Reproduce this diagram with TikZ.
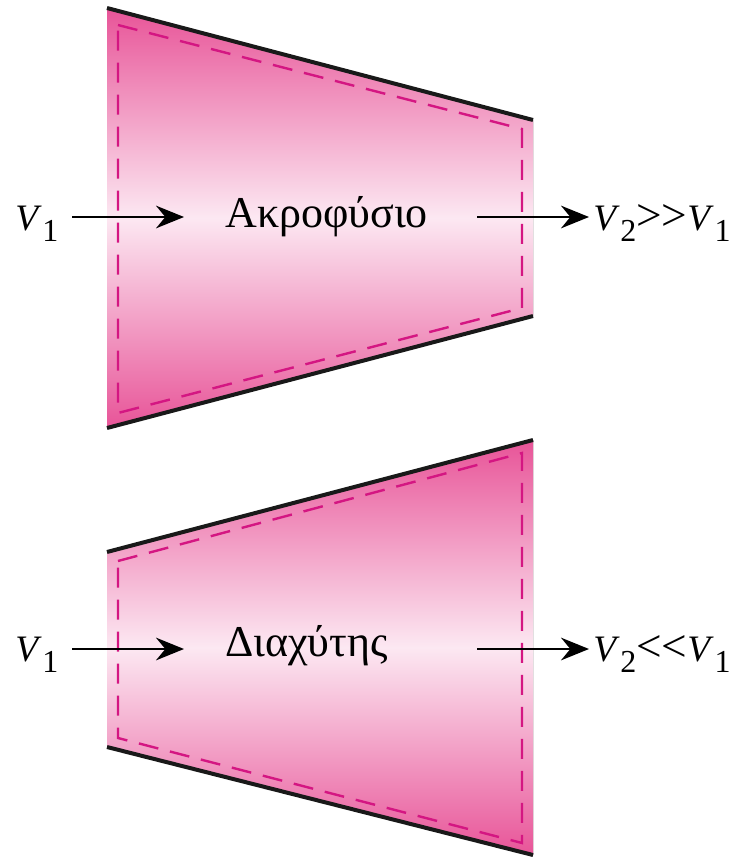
\documentclass[tikz,border=0pt]{standalone}
\usepackage{fontspec}
\setmainfont{Liberation Serif}
\usetikzlibrary{arrows.meta}
\definecolor{nozpink}{RGB}{232,84,152}
\definecolor{nozlight}{RGB}{252,232,242}
\definecolor{dashmag}{RGB}{212,22,130}
\newcommand{\vel}[1]{\textit{V}\kern0.5pt\raisebox{-0.32em}{\fontsize{24}{24}\selectfont #1}}
\newcommand{\much}[1]{{\fontsize{34}{34}\selectfont #1\kern0pt#1}}

\begin{document}
\begin{tikzpicture}[
  x=0.75pt, y=-0.75pt,
  duct/.style={top color=nozpink, bottom color=nozpink, middle color=nozlight, draw=none},
  wall/.style={line width=3pt, black!90},
  inner/.style={draw=dashmag, line width=1.8pt, dash pattern=on 15pt off 9pt},
  flow/.style={line width=1.4pt, -{Stealth[length=21pt,width=17pt,inset=7pt]}},
  vlabel/.style={inner sep=0pt, font=\fontsize{28}{32}\selectfont},
  nlabel/.style={inner sep=0pt, font=\fontsize{33}{38}\selectfont}
]
\useasboundingbox (0,0) rectangle (736,857);

% top: nozzle
\fill[duct] (107,8) -- (533,120) -- (533,316) -- (107,428) -- cycle;
\draw[wall] (107,8) -- (533,120);
\draw[wall] (107,428) -- (533,316);
\draw[inner] (118,25) -- (522,129) -- (522,308) -- (118,413) -- cycle;

\node[nlabel, anchor=base west] (nozname) at (225,227) {Ακροφύσιο};
\node[vlabel, anchor=base west] (vin1) at (15,230) {\vel{1}};
\node[vlabel, anchor=base west] (vout1) at (593,230) {\vel{2}\much{>}\vel{1}};

\coordinate (in1s) at (72,217);
\coordinate (in1e) at (184,217);
\coordinate (out1s) at (477,217);
\coordinate (out1e) at (589,217);
\draw[flow] (in1s) -- (in1e);
\draw[flow] (out1s) -- (out1e);

% bottom: diffuser
\fill[duct] (107,552) -- (533,440) -- (533,855) -- (107,747) -- cycle;
\draw[wall] (107,552) -- (533,440);
\draw[wall] (107,747) -- (533,855);
\draw[inner] (118,561) -- (522,453) -- (522,843) -- (118,738) -- cycle;

\node[nlabel, anchor=base west] (difname) at (225,656) {Διαχύτης};
\node[vlabel, anchor=base west] (vin2) at (15,661) {\vel{1}};
\node[vlabel, anchor=base west] (vout2) at (593,661) {\vel{2}\much{<}\vel{1}};

\coordinate (in2s) at (72,649);
\coordinate (in2e) at (184,649);
\coordinate (out2s) at (477,649);
\coordinate (out2e) at (589,649);
\draw[flow] (in2s) -- (in2e);
\draw[flow] (out2s) -- (out2e);

\end{tikzpicture}
\end{document}
